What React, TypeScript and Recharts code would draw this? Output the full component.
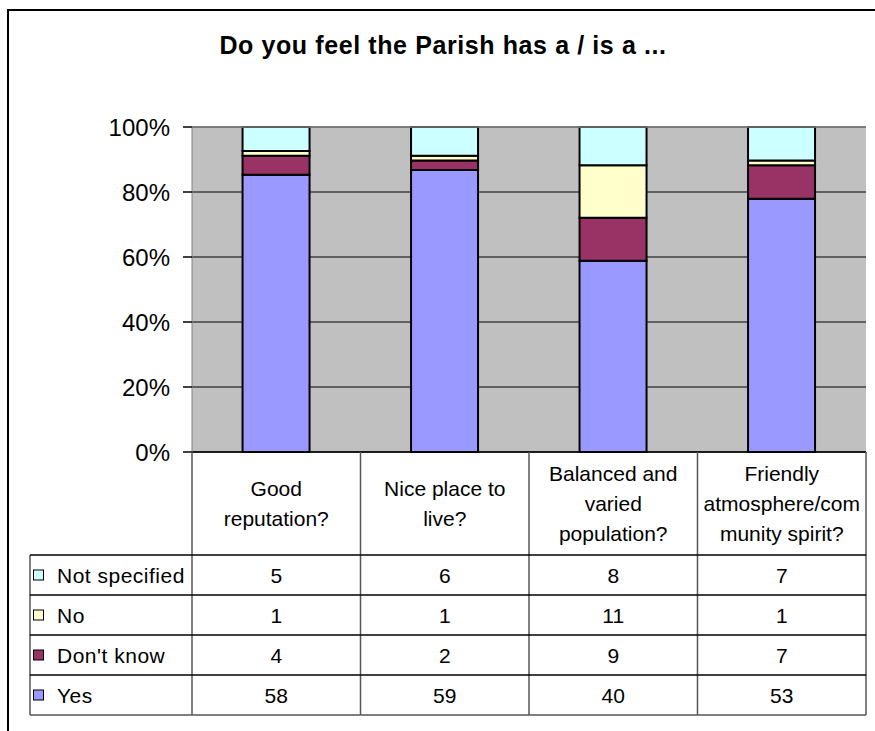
import { BarChart, Bar, XAxis, YAxis, CartesianGrid, ReferenceLine } from "recharts";

const categories = [
  "Good reputation?",
  "Nice place to live?",
  "Balanced and varied population?",
  "Friendly atmosphere/community spirit?",
];

// how the category names wrap in the table header
const categoryLines = [
  ["Good", "reputation?"],
  ["Nice place to", "live?"],
  ["Balanced and", "varied", "population?"],
  ["Friendly", "atmosphere/com", "munity spirit?"],
];

const yes = [58, 59, 40, 53];
const dontKnow = [4, 2, 9, 7];
const no = [1, 1, 11, 1];
const notSpecified = [5, 6, 8, 7];

const yTicks = [0, 0.2, 0.4, 0.6, 0.8, 1];

// table rows, top to bottom (same order as the legend)
const series = [
  { key: "notSpecified", name: "Not specified", color: "#CCFFFF", values: notSpecified },
  { key: "no", name: "No", color: "#FFFFCC", values: no },
  { key: "dontKnow", name: "Don't know", color: "#993366", values: dontKnow },
  { key: "yes", name: "Yes", color: "#9999FF", values: yes },
];

const data = categories.map((c, i) => {
  const row: Record<string, number | string> = { category: c, idx: i };
  series.forEach((s) => {
    row[s.key] = s.values[i];
  });
  return row;
});

const FONT = "'Liberation Sans', Arial, sans-serif";
const PLOT_LEFT = 192;
const PLOT_RIGHT = 866;
const PLOT_TOP = 127;
const PLOT_BOTTOM = 452;
const HEADER_H = 103;
const ROW_H = 40;
const LEGEND_LEFT = 30;
const COL_W = (PLOT_RIGHT - PLOT_LEFT) / categories.length;
const TABLE_FS = 21;

function TableColumn(props: any) {
  const { x, payload } = props;
  const i = payload.index;
  const top = PLOT_BOTTOM;
  const left = x - COL_W / 2;
  const right = x + COL_W / 2;
  const lines = categoryLines[i];
  const headerMid = top + HEADER_H / 2;
  const bottom = top + HEADER_H + ROW_H * series.length;

  return (
    <g>
      {i === 0 && (
        <g>
          <line x1={left} y1={top} x2={left} y2={bottom} stroke="#555" strokeWidth={1.5} />
          <line
            x1={LEGEND_LEFT}
            y1={top + HEADER_H}
            x2={LEGEND_LEFT}
            y2={bottom}
            stroke="#555"
            strokeWidth={1.5}
          />
          {series.map((s, r) => {
            const rowTop = top + HEADER_H + r * ROW_H;
            return (
              <g key={s.key}>
                <line x1={LEGEND_LEFT} y1={rowTop} x2={left} y2={rowTop} stroke="#000" strokeWidth={1.5} />
                <rect
                  x={33.5}
                  y={rowTop + ROW_H / 2 - 5}
                  width={10}
                  height={10}
                  fill={s.color}
                  stroke="#000"
                  strokeWidth={1}
                />
                <text
                  x={57}
                  y={rowTop + ROW_H / 2 + 7.5}
                  fontSize={TABLE_FS}
                  letterSpacing={0.5}
                  fill="#000"
                  fontFamily={FONT}
                >
                  {s.name}
                </text>
              </g>
            );
          })}
          <line x1={LEGEND_LEFT} y1={bottom} x2={left} y2={bottom} stroke="#555" strokeWidth={1.5} />
        </g>
      )}
      <line x1={right} y1={top} x2={right} y2={bottom} stroke="#555" strokeWidth={1.5} />
      {lines.map((t, k) => (
        <text
          key={k}
          x={x}
          y={headerMid - ((lines.length - 1) * 30) / 2 + k * 30 + 7.5}
          textAnchor="middle"
          fontSize={TABLE_FS}
          fill="#000"
          fontFamily={FONT}
        >
          {t}
        </text>
      ))}
      {series.map((s, r) => {
        const rowTop = top + HEADER_H + r * ROW_H;
        return (
          <g key={s.key}>
            <line x1={left} y1={rowTop} x2={right} y2={rowTop} stroke="#000" strokeWidth={1.5} />
            <text
              x={x}
              y={rowTop + ROW_H / 2 + 7.5}
              textAnchor="middle"
              fontSize={TABLE_FS}
              fill="#000"
              fontFamily={FONT}
            >
              {s.values[i]}
            </text>
          </g>
        );
      })}
      <line x1={left} y1={bottom} x2={right} y2={bottom} stroke="#555" strokeWidth={1.5} />
    </g>
  );
}

export default function App() {
  const xAxisHeight = HEADER_H + ROW_H * series.length + 2;
  return (
    <div
      style={{
        position: "absolute",
        left: 0,
        top: 0,
        width: 875,
        height: 731,
        overflow: "hidden",
        background: "#fff",
        fontFamily: FONT,
      }}
    >
      <div
        style={{
          position: "absolute",
          left: 7,
          top: 9,
          width: 900,
          height: 800,
          border: "2px solid #000",
        }}
      />
      <div
        style={{
          position: "absolute",
          left: 7,
          top: 33,
          width: 872,
          textAlign: "center",
          fontSize: 25,
          lineHeight: "25px",
          letterSpacing: 0.6,
          fontWeight: "bold",
        }}
      >
        Do you feel the Parish has a / is a ...
      </div>
      <div style={{ position: "absolute", left: 0, top: 0 }}>
        <BarChart
          width={875}
          height={731}
          data={data}
          stackOffset="expand"
          barCategoryGap="30%"
          margin={{
            top: PLOT_TOP,
            right: 875 - PLOT_RIGHT,
            left: 0,
            bottom: 731 - PLOT_BOTTOM - xAxisHeight,
          }}
        >
          <CartesianGrid vertical={false} stroke="#000" fill="#C0C0C0" fillOpacity={1} />
          <ReferenceLine y={1} stroke="#808080" strokeWidth={1.5} />
          <ReferenceLine x={categories[categories.length - 1]} stroke="none" />
          <XAxis
            dataKey="category"
            interval={0}
            height={xAxisHeight}
            tickLine={false}
            tickSize={0}
            tickMargin={0}
            axisLine={{ stroke: "#000", strokeWidth: 1.5 }}
            tick={(p: any) => <TableColumn {...p} />}
          />
          <YAxis
            width={PLOT_LEFT}
            domain={[0, 1]}
            ticks={yTicks}
            tickFormatter={(v: number) => `${Math.round(v * 100)}%`}
            tickSize={9}
            tickMargin={13}
            tickLine={{ stroke: "#000", strokeWidth: 1.5 }}
            axisLine={{ stroke: "#808080" }}
            tick={{ fontSize: 24, fill: "#000", fontFamily: FONT }}
          />
          {[...series].reverse().map((s) => (
            <Bar
              key={s.key}
              dataKey={s.key}
              name={s.name}
              stackId="a"
              fill={s.color}
              stroke="#000"
              strokeWidth={2}
              isAnimationActive={false}
            />
          ))}
        </BarChart>
      </div>
    </div>
  );
}
